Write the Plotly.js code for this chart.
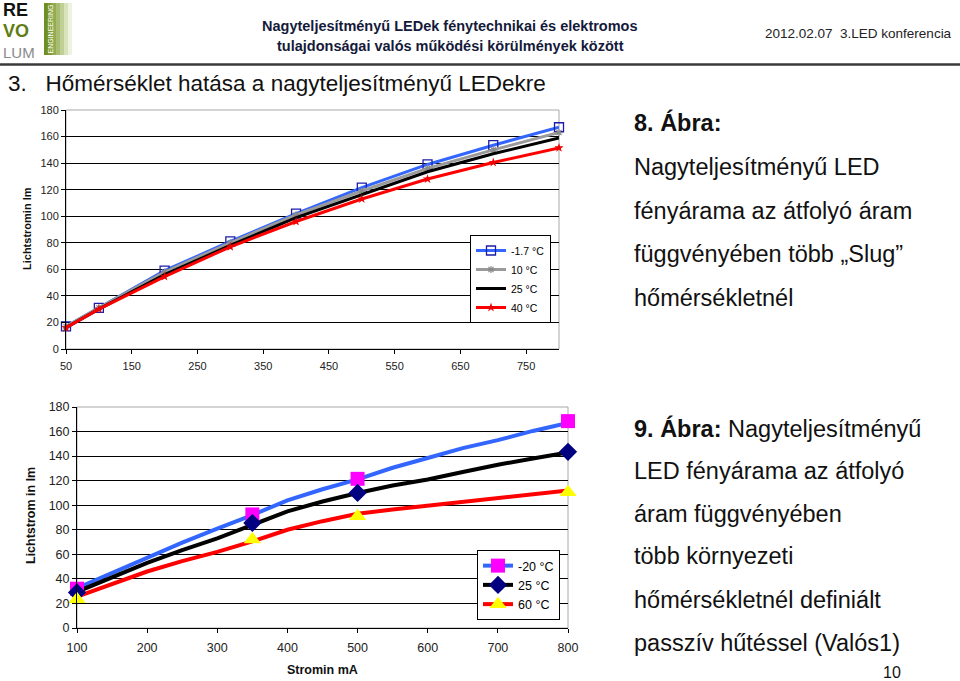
<!DOCTYPE html>
<html>
<head>
<meta charset="utf-8">
<script src="https://cdn.plot.ly/plotly-3.0.1.min.js"></script>
<style>
html,body{margin:0;padding:0;background:#fff;}
#chart{width:960px;height:681px;}
</style>
</head>
<body>
<div id="chart"></div>
<script>
// ---------- Data: Figure 8 (top chart) ----------
const currentTop = [50, 100, 200, 300, 400, 500, 600, 700, 800];
const lm_m1_7 = [17, 31, 59, 81, 102, 121.5, 139, 153.5, 167];
const lm_10   = [17, 31, 58, 80, 101, 119, 136, 150, 163];
const lm_25   = [16, 30, 56, 78, 99, 116, 133.5, 147, 159];
const lm_40   = [16, 30, 54.5, 77, 96, 113, 128, 140.5, 151.5];
const namesTop = ['-1.7 °C', '10 °C', '25 °C', '40 °C'];
const xTicksTop = [50, 150, 250, 350, 450, 550, 650, 750];

// ---------- Data: Figure 9 (bottom chart) ----------
const currentCurve = [100, 150, 200, 250, 300, 350, 400, 450, 500, 550, 600, 650, 700, 750, 800];
const curve_m20 = [32.5, 45, 57, 69.5, 81, 92, 104, 113, 121, 130.5, 138.5, 146.5, 153, 160.5, 167];
const curve_25  = [29.5, 41, 53, 63.5, 73, 84, 95, 103, 110, 116, 121, 127, 133, 138, 143];
const curve_60  = [25.5, 36, 46, 54.5, 62, 70.5, 80, 87, 93, 96.5, 99.5, 102.5, 105.5, 108.5, 112];
const currentMeas = [100, 350, 500, 800];
const meas_m20 = [32, 92.5, 121.5, 168.5];
const meas_25  = [29, 85.5, 110, 143.5];
const meas_60  = [23.5, 72, 91, 110.5];
const namesBottom = ['-20 °C', '25 °C', '60 °C'];

// ---------- helpers ----------
const W = 960, H = 681;
const px = x => x / W;
const py = y => 1 - y / H;
const FONT = 'Liberation Sans, Arial, sans-serif';
// insert gaps so isolated measurement markers are not joined, legend still shows line+marker
function gapped(arr) { const out = []; arr.forEach((v, i) => { if (i) out.push(null); out.push(v); }); return out; }

const traces = [];
// top chart
traces.push({x: currentTop, y: lm_m1_7, name: namesTop[0], xaxis: 'x', yaxis: 'y', legend: 'legend',
  mode: 'lines+markers', cliponaxis: false, line: {color: '#3366ff', width: 3},
  marker: {symbol: 'square-open', size: 9, color: '#1c1ca8', line: {width: 1.3}}});
traces.push({x: currentTop, y: lm_10, name: namesTop[1], xaxis: 'x', yaxis: 'y', legend: 'legend',
  mode: 'lines+markers', cliponaxis: false, line: {color: '#9a9a9a', width: 3},
  marker: {symbol: 'asterisk-open', size: 6, color: '#8a8a8a', line: {width: 1.2, color: '#8a8a8a'}}});
traces.push({x: currentTop, y: lm_25, name: namesTop[2], xaxis: 'x', yaxis: 'y', legend: 'legend',
  mode: 'lines', cliponaxis: false, line: {color: '#000000', width: 3}});
traces.push({x: currentTop, y: lm_40, name: namesTop[3], xaxis: 'x', yaxis: 'y', legend: 'legend',
  mode: 'lines+markers', cliponaxis: false, line: {color: '#ff0000', width: 3},
  marker: {symbol: 'star', size: 7, color: '#ee0000'}});

// bottom chart: measured curves
const curveColors = ['#3366ff', '#000000', '#ff0000'];
[curve_m20, curve_25, curve_60].forEach((c, i) => {
  traces.push({x: currentCurve, y: c, xaxis: 'x2', yaxis: 'y2', showlegend: false, hoverinfo: 'skip',
    mode: 'lines', cliponaxis: false, line: {color: curveColors[i], width: 4}});
});
// bottom chart: marker points
const markStyles = [
  {symbol: 'square', size: 14, color: '#ff00ff'},
  {symbol: 'diamond', size: 14, color: '#000080'},
  {symbol: 'triangle-up', size: 15, color: '#ffff00'}
];
[meas_m20, meas_25, meas_60].forEach((m, i) => {
  traces.push({x: gapped(currentMeas), y: gapped(m), name: namesBottom[i], xaxis: 'x2', yaxis: 'y2',
    legend: 'legend2', mode: 'lines+markers', connectgaps: false, cliponaxis: false,
    line: {color: curveColors[i], width: 4}, marker: markStyles[i]});
});

const tickFontTop = {family: FONT, size: 11, color: '#222'};
const tickFontBot = {family: FONT, size: 12.5, color: '#222'};

const axisCommon = {showline: true, linecolor: '#000', linewidth: 1, ticks: 'outside', ticklen: 4,
  tickcolor: '#000', zeroline: false, fixedrange: true};

const layout = {
  width: W, height: H,
  margin: {l: 0, r: 0, t: 0, b: 0},
  paper_bgcolor: '#fff', plot_bgcolor: '#fff',
  font: {family: FONT, color: '#111'},
  xaxis: Object.assign({}, axisCommon, {domain: [px(66), px(559)], range: [50, 800], tickvals: xTicksTop,
    showgrid: false, tickfont: tickFontTop, anchor: 'y', ticklabelstandoff: 3}),
  yaxis: Object.assign({}, axisCommon, {domain: [py(349), py(110)], range: [0, 180], dtick: 20,
    showgrid: true, gridcolor: '#000', gridwidth: 1, tickfont: tickFontTop, anchor: 'x'}),
  xaxis2: Object.assign({}, axisCommon, {domain: [px(77), px(568)], range: [100, 800], dtick: 100,
    showgrid: false, tickfont: tickFontBot, anchor: 'y2', ticklabelstandoff: 4}),
  yaxis2: Object.assign({}, axisCommon, {domain: [py(628), py(407)], range: [0, 180], dtick: 20,
    showgrid: true, gridcolor: '#000', gridwidth: 1, tickfont: tickFontBot, anchor: 'x2'}),
  legend: {x: px(470), y: py(235), xanchor: 'left', yanchor: 'top', bgcolor: '#fff',
    bordercolor: '#000', borderwidth: 1, font: {family: FONT, size: 10.5, color: '#000'},
    itemwidth: 30, tracegroupgap: 0, traceorder: 'normal'},
  legend2: {x: px(477), y: py(550), xanchor: 'left', yanchor: 'top', bgcolor: '#fff',
    bordercolor: '#000', borderwidth: 1, font: {family: FONT, size: 12.5, color: '#000'},
    itemwidth: 30, tracegroupgap: 0, traceorder: 'normal'},
  shapes: [],
  annotations: []
};

// plot-area grey borders
layout.shapes.push({type: 'rect', xref: 'x domain', yref: 'y domain', x0: 0, x1: 1, y0: 0, y1: 1,
  line: {color: '#a8a8a8', width: 1}, layer: 'below'});
layout.shapes.push({type: 'rect', xref: 'x2 domain', yref: 'y2 domain', x0: 0, x1: 1, y0: 0, y1: 1,
  line: {color: '#a8a8a8', width: 1}, layer: 'below'});
// header rule
layout.shapes.push({type: 'line', xref: 'paper', yref: 'paper', x0: 0, x1: 1, y0: py(64.5), y1: py(64.5),
  line: {color: '#3a3a3a', width: 2.5}});
// logo green gradient bar
const greens = ['#6f8f1f', '#7f9c35', '#93ac52', '#a9bd72', '#c0cf95', '#d8e2bb', '#eef2e0'];
greens.forEach((g, i) => {
  layout.shapes.push({type: 'rect', xref: 'paper', yref: 'paper', x0: px(44 + i * 4), x1: px(48 + i * 4),
    y0: py(55), y1: py(3), fillcolor: g, line: {width: 0}});
});

function ann(text, x, y, opts) {
  layout.annotations.push(Object.assign({text: text, x: px(x), y: py(y), xref: 'paper', yref: 'paper',
    showarrow: false, xanchor: 'left', yanchor: 'middle', borderpad: 0,
    font: {family: FONT, size: 23.5, color: '#111'}}, opts || {}));
}

// logo text (one stacked block)
ann('<b><span style="font-size:18px">RE</span></b><br>' +
    '<b><span style="color:#5f7d12;font-size:18px">VO</span></b><br>' +
    '<span style="color:#8a8a8a;font-size:15px">LUM</span>', 2, 30,
    {align: 'left', font: {family: FONT, size: 16, color: '#111'}});
ann('ENGINEERING', 49.5, 29, {xanchor: 'center', textangle: -90, font: {family: FONT, size: 7, color: '#ffffff'}});

// header
ann('<b>Nagyteljesítményű LEDek fénytechnikai és elektromos</b>', 450, 26,
  {xanchor: 'center', font: {family: FONT, size: 14.5, color: '#141a3a'}});
ann('<b>tulajdonságai valós működési körülmények között</b>', 450, 46,
  {xanchor: 'center', font: {family: FONT, size: 14.5, color: '#141a3a'}});
ann('2012.02.07  3.LED konferencia', 953, 33,
  {xanchor: 'right', font: {family: FONT, size: 13.5, color: '#222'}});

// slide title
ann('3.   Hőmérséklet hatása a nagyteljesítményű LEDekre', 7, 84, {font: {family: FONT, size: 22.5, color: '#111'}});

// axis titles
ann('<b>Lichtstromin lm</b>', 27, 229, {xanchor: 'center', textangle: -90, font: {family: FONT, size: 11, color: '#111'}});
ann('<b>Lichtstrom in lm</b>', 31, 516, {xanchor: 'center', textangle: -90, font: {family: FONT, size: 12.5, color: '#111'}});
ann('<b>Stromin mA</b>', 322, 670, {xanchor: 'center', font: {family: FONT, size: 12.5, color: '#111'}});

// right-hand captions
const cap8 = ['<b>8. Ábra:</b>', 'Nagyteljesítményű LED', 'fényárama az átfolyó áram', 'függvényében több „Slug”', 'hőmérsékletnél'];
const cap8y = [122, 167, 211, 254, 298];
cap8.forEach((t, i) => ann(t, 633, cap8y[i]));
const cap9 = ['<b>9. Ábra:</b> Nagyteljesítményű', 'LED fényárama az átfolyó', 'áram függvényében', 'több környezeti', 'hőmérsékletnél definiált', 'passzív hűtéssel (Valós1)'];
const cap9y = [428, 471, 514, 556, 600, 643];
cap9.forEach((t, i) => ann(t, 633, cap9y[i]));
ann('10', 892, 672, {xanchor: 'center', font: {family: FONT, size: 16, color: '#111'}});

Plotly.newPlot('chart', traces, layout, {staticPlot: true, displayModeBar: false});
</script>
</body>
</html>
